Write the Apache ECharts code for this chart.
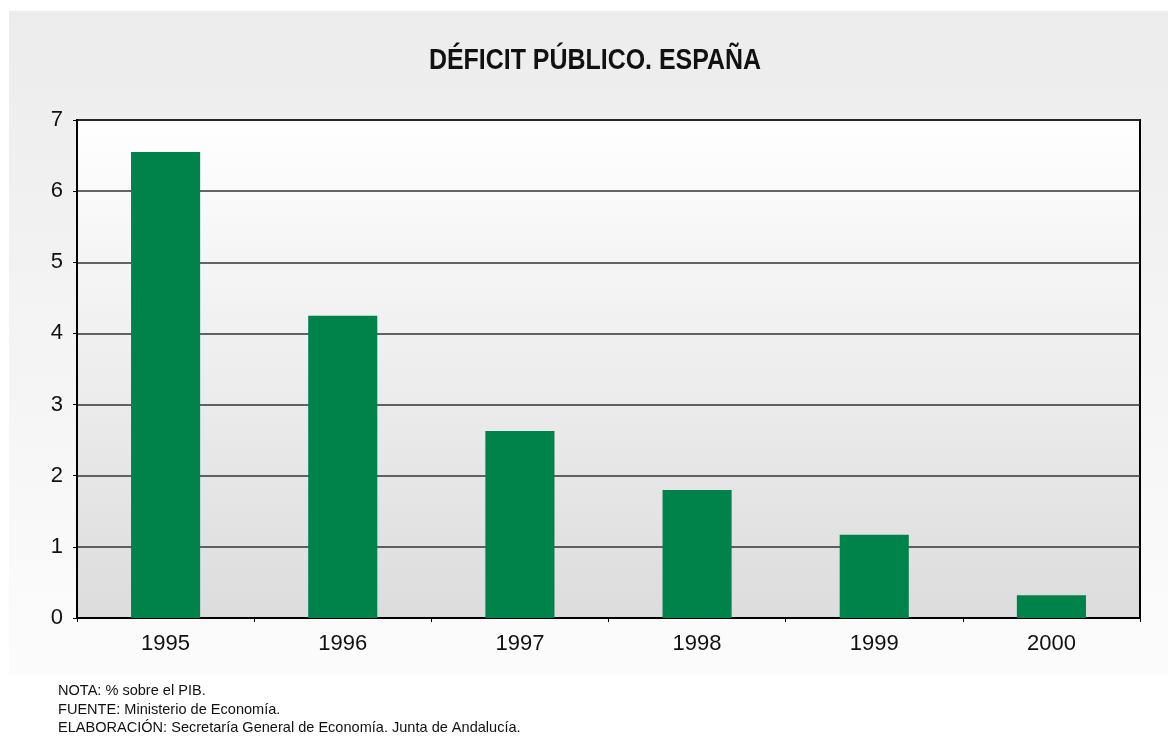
<!DOCTYPE html>
<html>
<head>
<meta charset="utf-8">
<script src="https://cdn.jsdelivr.net/npm/echarts@6/dist/echarts.min.js"></script>
<style>
  html, body { margin: 0; padding: 0; background: #fff; }
  #chart { width: 1168px; height: 736px; }
</style>
</head>
<body>
<div id="chart"></div>
<script>
// datos del gráfico
var years = ['1995', '1996', '1997', '1998', '1999', '2000'];
var deficit = [6.55, 4.25, 2.63, 1.8, 1.17, 0.32];
var titleText = 'DÉFICIT PÚBLICO. ESPAÑA';
var notes = [
  'NOTA: % sobre el PIB.',
  'FUENTE: Ministerio de Economía.',
  'ELABORACIÓN: Secretaría General de Economía. Junta de Andalucía.'
];

var chart = echarts.init(document.getElementById('chart'));

chart.setOption({
  animation: false,
  backgroundColor: '#ffffff',
  graphic: [
    {
      type: 'rect',
      z: -10,
      shape: { x: 9, y: 11, width: 1159, height: 664 },
      style: {
        fill: new echarts.graphic.LinearGradient(0, 0, 0, 1, [
          { offset: 0, color: '#ececec' },
          { offset: 1, color: '#fcfcfc' }
        ])
      }
    },
    {
      // título, estrechado como en el original
      type: 'text',
      x: 595,
      y: 61,
      scaleX: 0.86,
      style: {
        text: titleText,
        fill: '#111',
        font: 'bold 29px "Liberation Sans", Arial, sans-serif',
        align: 'center',
        verticalAlign: 'middle'
      }
    },
    {
      type: 'text',
      x: 58,
      y: 682,
      scaleX: 0.97,
      style: {
        text: notes.join('\n'),
        fill: '#111',
        font: '15px "Liberation Sans", Arial, sans-serif',
        lineHeight: 18.5
      }
    }
  ],
  grid: {
    left: 77,
    right: 28,
    top: 120,
    bottom: 118,
    show: true,
    borderColor: '#000',
    borderWidth: 2,
    backgroundColor: new echarts.graphic.LinearGradient(0, 0, 0, 1, [
      { offset: 0, color: '#ffffff' },
      { offset: 1, color: '#dcdcdc' }
    ])
  },
  xAxis: {
    type: 'category',
    data: years,
    axisLine: { lineStyle: { color: '#000', width: 2 } },
    axisTick: { show: true, length: 4, lineStyle: { color: '#000', width: 1 } },
    axisLabel: {
      fontFamily: '"Liberation Sans", Arial, sans-serif',
      fontSize: 22,
      color: '#111',
      margin: 15
    }
  },
  yAxis: {
    type: 'value',
    min: 0,
    max: 7,
    interval: 1,
    axisLine: { show: true, lineStyle: { color: '#000', width: 2 } },
    axisTick: { show: true, length: 4, lineStyle: { color: '#000', width: 1 } },
    axisLabel: {
      fontFamily: '"Liberation Sans", Arial, sans-serif',
      fontSize: 22,
      color: '#111',
      margin: 14
    },
    splitLine: { lineStyle: { color: '#333', width: 1.5 } }
  },
  series: [{
    type: 'bar',
    data: deficit,
    barWidth: '39%',
    itemStyle: { color: '#00834a' }
  }]
});
</script>
</body>
</html>
